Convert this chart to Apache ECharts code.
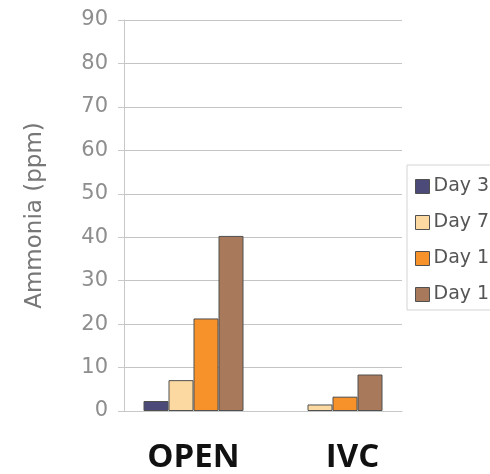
<!DOCTYPE html>
<html><head><meta charset="utf-8">
<script src="https://cdn.jsdelivr.net/npm/echarts@6/dist/echarts.min.js"></script>
<style>html,body{margin:0;padding:0;background:#fff}#c{width:490px;height:474px}</style>
</head><body><div id="c"></div>
<script>
var categories = ['OPEN', 'IVC'];
var seriesNames = ['Day 3', 'Day 7', 'Day 10', 'Day 14'];
var day3 = [2.3, null];
var day7 = [7.1, 1.5];
var day10 = [21.3, 3.3];
var day14 = [40.3, 8.4];
var yTicks = [0, 10, 20, 30, 40, 50, 60, 70, 80, 90];
var colors = ['#4b4a78', '#fcd9a0', '#f7922b', '#a8795a'];

var chart = echarts.init(document.getElementById('c'), null, {renderer: 'canvas'});
var seriesData = [day3, day7, day10, day14];
var series = seriesNames.map(function (n, i) {
  return {
    name: n, type: 'bar', data: seriesData[i], barWidth: 25, barGap: '0%',
    itemStyle: {color: colors[i], borderColor: '#505050', borderWidth: 1}
  };
});
chart.setOption({
  animation: false,
  color: colors,
  grid: {left: 124, right: 88, top: 20, bottom: 62.5, containLabel: false},
  legend: {
    orient: 'vertical', left: 407, top: 165,
    padding: [12, 20, 6, 8], itemGap: 17, itemWidth: 14, itemHeight: 14,
    borderColor: '#d4d4d4', borderWidth: 1,
    icon: 'rect',
    itemStyle: {borderColor: '#505050', borderWidth: 1},
    textStyle: {fontFamily: 'DejaVu Sans', fontSize: 19, color: '#555', padding: [0, 0, 0, -1]},
    data: seriesNames
  },
  xAxis: {
    type: 'category', data: categories,
    axisLine: {lineStyle: {color: '#c8c8c8'}},
    axisTick: {show: false},
    axisLabel: {
      margin: 30,
      formatter: function (v) { return v === 'IVC' ? '{s|' + v + '}' : '{n|' + v + '}'; },
      rich: {
        n: {fontFamily: 'Open Sans', fontWeight: 'bold', fontSize: 33, color: '#111'},
        s: {fontFamily: 'Open Sans', fontWeight: 'bold', fontSize: 33, color: '#111', padding: [0, 0, 0, 40]}
      }
    }
  },
  yAxis: {
    type: 'value', min: yTicks[0], max: yTicks[yTicks.length - 1], interval: 10,
    name: 'Ammonia (ppm)', nameLocation: 'middle', nameGap: 77, nameRotate: 90,
    nameTextStyle: {fontFamily: 'DejaVu Sans', fontSize: 23, color: '#777'},
    axisLine: {show: true, lineStyle: {color: '#c8c8c8'}},
    axisTick: {show: true, length: 6, lineStyle: {color: '#c8c8c8'}},
    axisLabel: {fontFamily: 'DejaVu Sans', fontSize: 21, color: '#8e8e8e', margin: 16},
    splitLine: {lineStyle: {color: '#c4c4c4'}}
  },
  series: series
});
</script></body></html>
